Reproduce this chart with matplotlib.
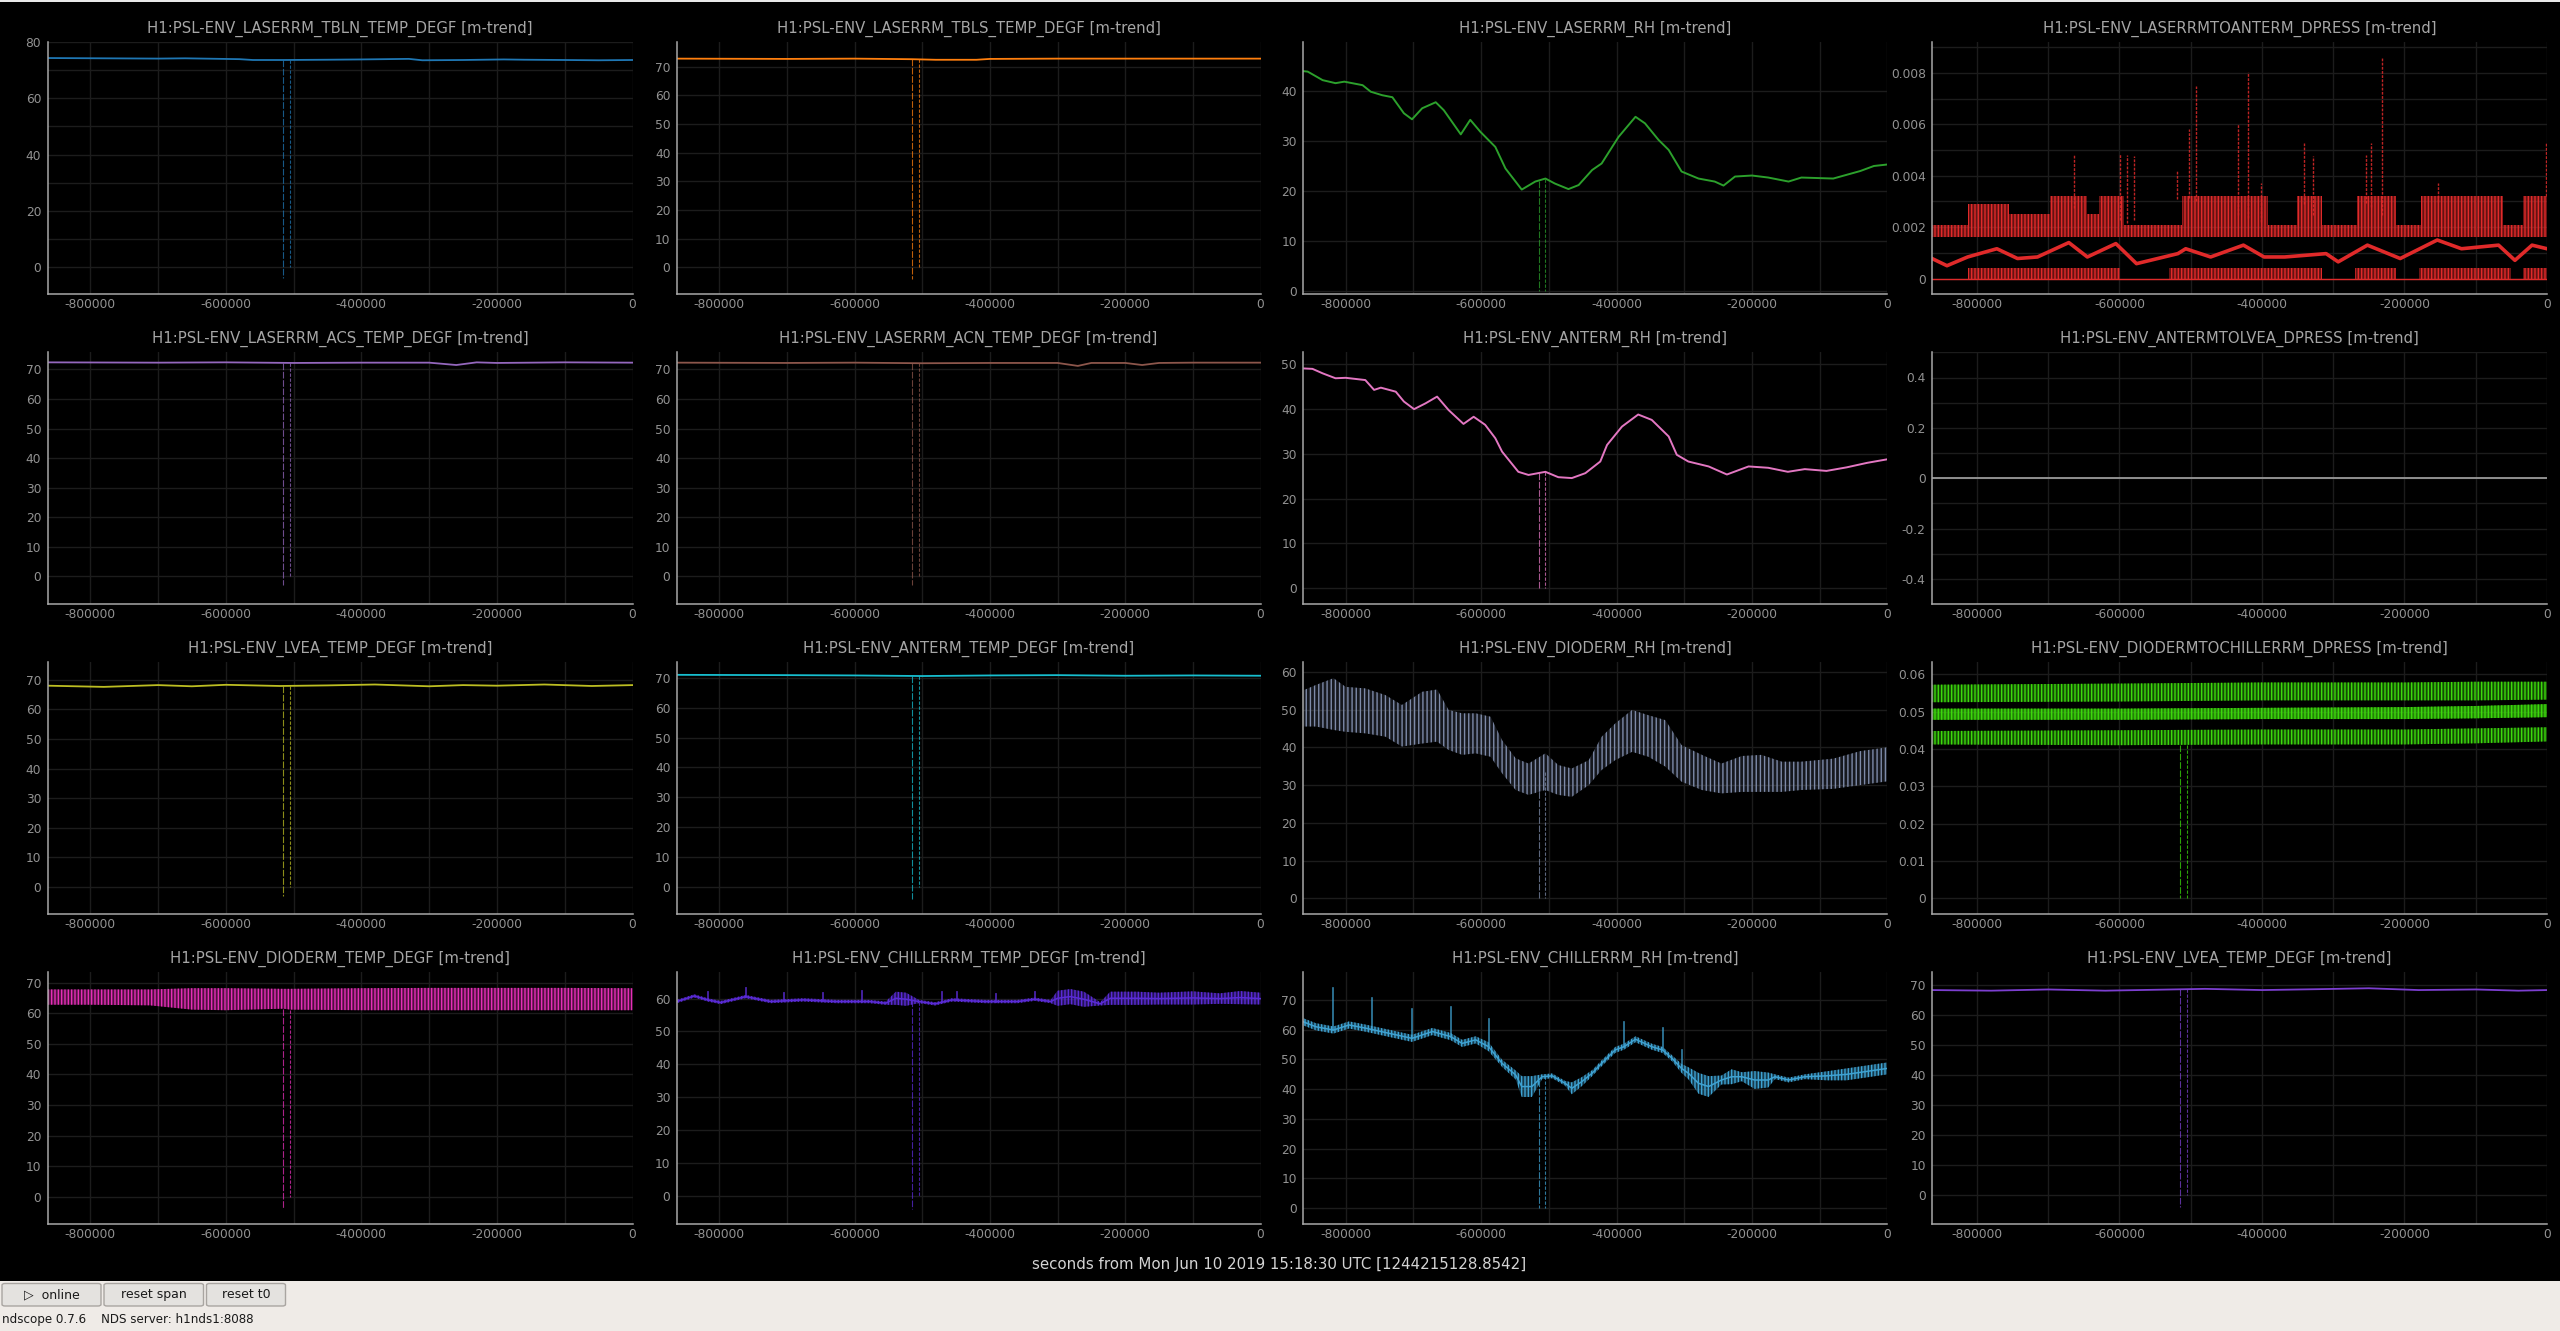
import numpy as np
import matplotlib
matplotlib.use("Agg")
import matplotlib.pyplot as plt
from matplotlib.ticker import MultipleLocator, FixedLocator, FuncFormatter
from matplotlib.patches import FancyBboxPatch, Rectangle
from matplotlib.colors import to_rgba

plt.rcParams['font.family'] = ['DejaVu Sans']
plt.rcParams['axes.unicode_minus'] = False
plt.rcParams['hatch.linewidth'] = 1.0

# ---------------- data (time in kiloseconds before t0) ----------------
XLABEL = "seconds from Mon Jun 10 2019 15:18:30 UTC [1244215128.8542]"
DROP_T = [-515, -505]   # data dropouts (vertical lines)

tbln_t = [-863, -780, -700, -660, -580, -560, -515, -450, -400, -330, -310, -250, -190, -160, -100, -50, 0]
tbln_v = [74.3, 74.2, 74.1, 74.2, 73.9, 73.6, 73.6, 73.7, 73.8, 74.0, 73.5, 73.6, 73.8, 73.7, 73.6, 73.5, 73.6]

tbls_t = [-863, -700, -600, -515, -480, -420, -400, -300, -200, -100, 0]
tbls_v = [72.8, 72.7, 72.8, 72.6, 72.4, 72.4, 72.7, 72.8, 72.8, 72.8, 72.8]

lrh_t = [-863, -856, -834, -815, -802, -775, -763, -746, -731, -714, -702, -687, -667, -655, -643,
         -630, -616, -601, -579, -564, -540, -520, -505, -491, -471, -456, -436, -422, -397, -372,
         -358, -338, -323, -304, -279, -255, -242, -225, -200, -176, -146, -127, -80, -40, -20, 0]
lrh_v = [43.9, 43.8, 42.1, 41.5, 41.8, 41.1, 39.8, 39.1, 38.7, 35.5, 34.3, 36.5, 37.7, 36.1, 33.8,
         31.3, 34.2, 31.8, 28.8, 24.5, 20.3, 21.9, 22.5, 21.5, 20.4, 21.2, 24.2, 25.5, 30.8, 34.8,
         33.5, 30.2, 28.2, 23.9, 22.5, 21.9, 21.1, 22.9, 23.1, 22.7, 21.9, 22.7, 22.5, 24.0, 25.0, 25.3]

# LASERRMTOANTERM_DPRESS: max band (step), min band (step), mean, spikes
la_max_t = [-863, -813, -755, -697, -645, -628, -593, -512, -391, -351, -316, -267, -212, -177, -62, -33, 0]
la_max_hi = [0.0021, 0.0029, 0.0025, 0.0032, 0.0025, 0.0032, 0.0021, 0.0032, 0.0021, 0.0032, 0.0021,
             0.0032, 0.0021, 0.0032, 0.0021, 0.0032, 0.0032]
la_max_lo = [0.0016, 0.0016, 0.0016, 0.0016, 0.0016, 0.0016, 0.0016, 0.0016, 0.0016, 0.0016, 0.0016,
             0.0016, 0.0016, 0.0016, 0.0016, 0.0016, 0.0016]
la_min_t = [-863, -813, -599, -530, -316, -270, -212, -180, -50, -34, 0]
la_min_hi = [0.0, 0.0004, 0.0, 0.0004, 0.0, 0.0004, 0.0, 0.0004, 0.0, 0.0004, 0.0004]
la_mean_t = [-863, -842, -813, -772, -743, -715, -671, -645, -605, -576, -518, -507, -472,
             -426, -397, -368, -310, -293, -252, -206, -154, -120, -68, -45, -21, 0]
la_mean_v = [0.00078, 0.0005, 0.00084, 0.00116, 0.00078, 0.00084, 0.0014, 0.00084, 0.00136, 0.00058,
             0.00097, 0.00116, 0.00084, 0.0013, 0.00084, 0.00084, 0.00097, 0.00065, 0.0013, 0.00078,
             0.0015, 0.00116, 0.0013, 0.00071, 0.0013, 0.00116]
la_spike_t = [-664, -599, -589, -579, -519, -503, -492, -433, -420, -401, -341, -328, -254, -247, -231, -153, -2]
la_spike_v = [0.0048, 0.00483, 0.0048, 0.00475, 0.00423, 0.00583, 0.00747, 0.006, 0.00805, 0.0037,
              0.00527, 0.00475, 0.00479, 0.00528, 0.00858, 0.0037, 0.0053]

acs_t = [-863, -700, -600, -500, -400, -300, -260, -230, -200, -100, 0]
acs_v = [72.4, 72.3, 72.4, 72.2, 72.3, 72.3, 71.5, 72.4, 72.2, 72.4, 72.3]

acn_t = [-863, -700, -600, -500, -400, -300, -270, -250, -200, -175, -150, -100, 0]
acn_v = [72.3, 72.2, 72.3, 72.1, 72.2, 72.2, 71.2, 72.2, 72.2, 71.5, 72.2, 72.3, 72.3]

arh_t = [-863, -849, -834, -815, -800, -771, -758, -748, -726, -714, -699, -682, -665, -648,
         -626, -611, -594, -579, -569, -545, -530, -505, -486, -466, -446, -424, -414, -392,
         -368, -348, -323, -311, -294, -264, -237, -205, -176, -147, -122, -90, -60, -30, 0]
arh_v = [49.1, 49.0, 48.0, 46.9, 47.0, 46.5, 44.3, 44.8, 43.9, 41.7, 40.0, 41.3, 42.8, 39.8,
         36.7, 38.3, 36.5, 33.5, 30.5, 26.0, 25.3, 26.0, 24.8, 24.6, 25.7, 28.3, 32.0, 36.1,
         38.8, 37.6, 33.9, 29.8, 28.3, 27.2, 25.4, 27.2, 26.9, 26.0, 26.6, 26.2, 27.0, 28.0, 28.8]

alv_t = [-863, 0]
alv_v = [0.0, 0.0]

lvea1_t = [-863, -780, -700, -650, -600, -520, -450, -380, -300, -250, -200, -130, -60, 0]
lvea1_v = [68.0, 67.6, 68.2, 67.8, 68.3, 67.9, 68.1, 68.4, 67.8, 68.2, 68.0, 68.4, 67.9, 68.2]

ant_t = [-863, -700, -600, -500, -400, -300, -200, -100, 0]
ant_v = [71.0, 70.9, 70.8, 70.6, 70.8, 70.9, 70.7, 70.8, 70.7]

drh_t = [-863, -861, -844, -818, -800, -771, -741, -717, -687, -665, -648, -628, -608, -586,
         -569, -549, -530, -505, -486, -466, -441, -422, -402, -377, -353, -328, -304, -274,
         -245, -215, -186, -156, -127, -80, -40, 0]
drh_hi = [55.2, 55.2, 56.5, 58.3, 56.0, 55.6, 53.8, 51.2, 54.7, 55.3, 49.9, 49.0, 49.0, 48.1,
          41.9, 37.1, 35.7, 38.4, 35.3, 34.4, 36.6, 42.8, 46.3, 49.9, 48.5, 47.2, 40.6, 38.0,
          35.7, 37.7, 38.0, 36.2, 36.2, 37.0, 39.0, 40.0]
drh_lo = [45.5, 45.5, 45.5, 44.6, 44.1, 43.7, 42.8, 40.2, 41.0, 41.5, 39.3, 38.0, 38.4, 37.5,
          33.1, 28.7, 27.4, 28.7, 27.4, 26.9, 30.0, 34.0, 36.6, 38.8, 37.5, 34.9, 30.9, 28.7,
          27.8, 28.2, 28.2, 28.2, 28.7, 29.0, 30.0, 31.0]

dcp_t = [-863, -600, -400, -200, -100, 0]
dcp_max_lo = [0.0525, 0.0527, 0.0530, 0.0530, 0.0530, 0.0532]
dcp_max_hi = [0.0572, 0.0575, 0.0578, 0.0578, 0.0580, 0.0580]
dcp_mean_lo = [0.0478, 0.0478, 0.0480, 0.0480, 0.0482, 0.0485]
dcp_mean_hi = [0.0508, 0.0508, 0.0510, 0.0512, 0.0515, 0.0520]
dcp_min_lo = [0.0412, 0.0410, 0.0412, 0.0412, 0.0415, 0.0420]
dcp_min_hi = [0.0448, 0.0450, 0.0452, 0.0452, 0.0455, 0.0458]

dtemp_t = [-863, -800, -712, -650, -600, -515, -505, -400, -300, -200, -100, 0]
dtemp_hi = [67.8, 67.8, 67.8, 68.2, 68.2, 68.0, 68.0, 68.2, 68.3, 68.3, 68.3, 68.2]
dtemp_lo = [62.8, 62.8, 62.6, 61.2, 61.0, 61.5, 61.2, 61.0, 61.0, 61.0, 61.0, 61.0]

ctemp_t = [-863, -837, -817, -798, -761, -724, -676, -627, -578, -554, -539, -524, -505, -481, -456,
           -407, -359, -334, -310, -300, -281, -261, -237, -222, -183, -150, -100, -60, -30, 0]
ctemp_v = [59.1, 60.8, 59.6, 58.8, 60.6, 59.1, 59.6, 59.1, 59.1, 58.6, 60.1, 59.8, 59.1, 58.4, 59.6,
           59.1, 59.1, 59.8, 59.1, 60.1, 60.6, 59.8, 58.4, 60.1, 60.1, 60.0, 60.2, 60.0, 60.3, 60.0]
ctemp_amp = [0.5, 0.5, 0.5, 0.5, 0.5, 0.5, 0.5, 0.5, 0.5, 0.5, 2.0, 2.0, 0.5, 0.5, 0.5,
             0.5, 0.5, 0.5, 0.5, 2.3, 2.3, 2.3, 0.5, 2.0, 2.0, 1.8, 2.0, 1.6, 2.0, 1.8]
ctemp_spike_t = [-817, -760, -704, -646, -589, -471, -449, -391, -334]
ctemp_spike_v = [62.1, 63.3, 61.6, 61.6, 62.4, 62.1, 62.1, 61.5, 61.9]

crh_t = [-863, -844, -818, -795, -770, -736, -702, -672, -645, -628, -608, -589, -569, -549, -540,
         -525, -510, -495, -476, -466, -451, -436, -422, -402, -389, -372, -348, -332, -318, -304,
         -294, -279, -264, -245, -230, -215, -196, -176, -166, -146, -122, -90, -60, -30, 0]
crh_v = [62.7, 61.0, 59.9, 61.6, 60.5, 58.8, 57.1, 59.4, 57.7, 55.4, 56.6, 54.3, 48.7, 44.8, 40.9,
         40.9, 44.2, 44.5, 42.0, 40.3, 42.6, 45.4, 48.7, 53.2, 54.3, 56.8, 54.3, 53.2, 50.4, 47.0,
         45.4, 42.0, 40.9, 43.1, 44.2, 44.2, 43.1, 43.1, 44.2, 43.1, 44.2, 44.5, 45.0, 46.0, 47.0]
crh_amp = [1.2, 1.2, 1.2, 1.2, 1.2, 1.2, 1.2, 1.2, 1.2, 1.2, 1.2, 1.5, 1.2, 1.5, 3.5,
           3.5, 0.8, 0.8, 0.8, 2.0, 1.5, 1.0, 1.0, 1.0, 1.0, 1.0, 1.0, 1.0, 1.0, 1.5,
           2.0, 3.5, 3.5, 1.5, 2.5, 1.5, 3.0, 2.5, 0.8, 0.8, 0.8, 1.5, 2.0, 2.0, 2.0]
crh_spike_t = [-818, -761, -702, -645, -589, -389, -332, -304]
crh_spike_v = [74.1, 70.8, 67.0, 67.6, 63.7, 62.5, 60.7, 53.2]

lvea2_t = [-863, -780, -700, -620, -550, -480, -400, -320, -250, -180, -100, -40, 0]
lvea2_v = [68.2, 68.0, 68.4, 68.0, 68.3, 68.6, 68.2, 68.5, 68.8, 68.2, 68.4, 68.0, 68.2]

TITLES = [
    "H1:PSL-ENV_LASERRM_TBLN_TEMP_DEGF [m-trend]", "H1:PSL-ENV_LASERRM_TBLS_TEMP_DEGF [m-trend]",
    "H1:PSL-ENV_LASERRM_RH [m-trend]", "H1:PSL-ENV_LASERRMTOANTERM_DPRESS [m-trend]",
    "H1:PSL-ENV_LASERRM_ACS_TEMP_DEGF [m-trend]", "H1:PSL-ENV_LASERRM_ACN_TEMP_DEGF [m-trend]",
    "H1:PSL-ENV_ANTERM_RH [m-trend]", "H1:PSL-ENV_ANTERMTOLVEA_DPRESS [m-trend]",
    "H1:PSL-ENV_LVEA_TEMP_DEGF [m-trend]", "H1:PSL-ENV_ANTERM_TEMP_DEGF [m-trend]",
    "H1:PSL-ENV_DIODERM_RH [m-trend]", "H1:PSL-ENV_DIODERMTOCHILLERRM_DPRESS [m-trend]",
    "H1:PSL-ENV_DIODERM_TEMP_DEGF [m-trend]", "H1:PSL-ENV_CHILLERRM_TEMP_DEGF [m-trend]",
    "H1:PSL-ENV_CHILLERRM_RH [m-trend]", "H1:PSL-ENV_LVEA_TEMP_DEGF [m-trend]",
]
COLORS = ['#1f77b4', '#ff7f0e', '#2ca02c', '#e02a2a', '#9467bd', '#8c564b', '#e377c2', '#9a9a9a',
          '#bcbd22', '#17becf', '#7d8aa8', '#3cd90c', '#e62eb8', '#5a2bd6', '#3ea2d2', '#7c3fd0']
YLIMS = [(-9.6, 80), (-9.3, 78.6), (-0.5, 49.7), (-0.0006, 0.0092),
         (-9.4, 75.8), (-9.4, 75.8), (-3.6, 52.7), (-0.5, 0.5),
         (-9.2, 75.9), (-9.2, 75.2), (-4.2, 62.5), (-0.0043, 0.0632),
         (-9.0, 73.4), (-8.7, 68.0), (-5.4, 79.3), (-9.6, 74.1)]
YTICKS = [[0, 20, 40, 60, 80], [0, 10, 20, 30, 40, 50, 60, 70], [0, 10, 20, 30, 40],
          [0, 0.002, 0.004, 0.006, 0.008],
          [0, 10, 20, 30, 40, 50, 60, 70], [0, 10, 20, 30, 40, 50, 60, 70], [0, 10, 20, 30, 40, 50],
          [-0.4, -0.2, 0, 0.2, 0.4],
          [0, 10, 20, 30, 40, 50, 60, 70], [0, 10, 20, 30, 40, 50, 60, 70], [0, 10, 20, 30, 40, 50, 60],
          [0, 0.01, 0.02, 0.03, 0.04, 0.05, 0.06],
          [0, 10, 20, 30, 40, 50, 60, 70], [0, 10, 20, 30, 40, 50, 60], [0, 10, 20, 30, 40, 50, 60, 70],
          [0, 10, 20, 30, 40, 50, 60, 70]]
YGRID = [10, 10, 10, 0.001, 10, 10, 10, 0.1, 10, 10, 10, 0.01, 10, 10, 10, 10]
DROP_BOTTOM = [(-4, 0), (-4, 0), (0, 0), None, (-3, 0), (-3, 0), (0, 0), None,
               (-3, 0), (-4, 0), (0, 0), (0, 0), (-4, 0), (-4, 0), (0, 0), (-4, 0)]
X_MAJOR = [-800000, -600000, -400000, -200000, 0]
X_MINOR = [-700000, -500000, -300000, -100000]
XLIM = (-863000, 0)

# ---------------- layout ----------------
W, H = 2560, 1331
fig = plt.figure(figsize=(W / 100, H / 100), dpi=100, facecolor='black')
COLS = [(47.5, 632.5), (676.7, 1260.5), (1303, 1887.4), (1932, 2547)]
ROWS = [(42, 294), (352.3, 604.3), (662.3, 914.3), (972.3, 1224.3)]

K = 1000.0
def ks(a):
    return np.asarray(a, dtype=float) * K

axes = []
for r in range(4):
    for c in range(4):
        x0, x1 = COLS[c]
        y0, y1 = ROWS[r]
        ax = fig.add_axes([x0 / W, 1 - y1 / H, (x1 - x0) / W, (y1 - y0) / H])
        axes.append(ax)

def fmt_y(v, pos):
    return '%g' % v

for i, ax in enumerate(axes):
    ax.set_facecolor('black')
    ax.set_xlim(*XLIM)
    ax.set_ylim(*YLIMS[i])
    ax.set_xticks(X_MAJOR)
    ax.xaxis.set_minor_locator(FixedLocator(X_MINOR))
    ax.xaxis.set_major_formatter(FuncFormatter(lambda v, p: '%d' % round(v)))
    ax.set_yticks(YTICKS[i])
    ax.yaxis.set_minor_locator(MultipleLocator(YGRID[i]))
    ax.yaxis.set_major_formatter(FuncFormatter(fmt_y))
    ax.grid(which='both', color='#1c1c1c', lw=1.0)
    ax.set_axisbelow(True)
    for s in ['top', 'right']:
        ax.spines[s].set_visible(False)
    for s in ['left', 'bottom']:
        ax.spines[s].set_color('#a8a8a8')
        ax.spines[s].set_linewidth(1.1)
    ax.tick_params(which='both', length=0, colors='#929292', labelsize=8.8)
    ax.tick_params(axis='y', pad=4.5)
    ax.tick_params(axis='x', pad=3.0)
    ax.text(0.5, 1 + 9.7 / 252, TITLES[i], transform=ax.transAxes, ha='center',
            va='baseline', color='#a6a6a6', fontsize=10.7)

def line(ax, t, v, color, lw=1.3, alpha=1.0):
    ax.plot(ks(t), v, color=color, lw=lw, alpha=alpha, solid_joinstyle='round')

def hband(ax, t, lo, hi, color, face_alpha=0.25, hatch='||||', step=None):
    ax.fill_between(ks(t), lo, hi, facecolor=to_rgba(color, face_alpha), edgecolor=color,
                    hatch=hatch, lw=0, step=step)

def dropouts(ax, i, t, v):
    b = DROP_BOTTOM[i]
    if b is None:
        return
    for k, td in enumerate(DROP_T):
        top = np.interp(td * K, ks(t), np.asarray(v, float))
        ax.plot([td * K, td * K], [top, b[k]], color=COLORS[i], lw=0.8,
                alpha=0.75, dashes=(3, 1.5) if k == 1 else (6, 1.5))

def spikes(ax, t, base, v, color, lw=0.9, alpha=0.8, dashed=False):
    for tt, bb, vv in zip(t, base, v):
        kw = dict(dashes=(2, 1)) if dashed else {}
        ax.plot([tt * K, tt * K], [bb, vv], color=color, lw=lw, alpha=alpha, **kw)

# P1..P2
line(axes[0], tbln_t, tbln_v, COLORS[0]); dropouts(axes[0], 0, tbln_t, tbln_v)
line(axes[1], tbls_t, tbls_v, COLORS[1]); dropouts(axes[1], 1, tbls_t, tbls_v)
# P3
line(axes[2], lrh_t, lrh_v, COLORS[2], lw=1.4); dropouts(axes[2], 2, lrh_t, lrh_v)
# P4
ax = axes[3]
hband(ax, la_max_t, la_max_lo, la_max_hi, COLORS[3], face_alpha=0.45, hatch='|||||', step='post')
hband(ax, la_min_t, [0.0] * len(la_min_t), la_min_hi, COLORS[3], face_alpha=0.45, hatch='|||||', step='post')
ax.plot(ks([-863, 0]), [0, 0], color=COLORS[3], lw=1.0)
spikes(ax, la_spike_t, np.interp(ks(la_spike_t), ks(la_max_t), la_max_hi), la_spike_v,
       COLORS[3], lw=1.0, alpha=0.85, dashed=True)
line(ax, la_mean_t, la_mean_v, COLORS[3], lw=2.6)
# P5..P8
line(axes[4], acs_t, acs_v, COLORS[4]); dropouts(axes[4], 4, acs_t, acs_v)
line(axes[5], acn_t, acn_v, COLORS[5]); dropouts(axes[5], 5, acn_t, acn_v)
line(axes[6], arh_t, arh_v, COLORS[6], lw=1.4); dropouts(axes[6], 6, arh_t, arh_v)
line(axes[7], alv_t, alv_v, COLORS[7], lw=1.3)
# P9..P12
line(axes[8], lvea1_t, lvea1_v, COLORS[8]); dropouts(axes[8], 8, lvea1_t, lvea1_v)
line(axes[9], ant_t, ant_v, COLORS[9]); dropouts(axes[9], 9, ant_t, ant_v)
hband(axes[10], drh_t, drh_lo, drh_hi, COLORS[10], face_alpha=0.18, hatch='||||')
dropouts(axes[10], 10, drh_t, [(a + b) / 2 for a, b in zip(drh_lo, drh_hi)])
ax = axes[11]
hband(ax, dcp_t, dcp_max_lo, dcp_max_hi, COLORS[11], face_alpha=0.35, hatch='|||||')
hband(ax, dcp_t, dcp_min_lo, dcp_min_hi, COLORS[11], face_alpha=0.35, hatch='|||||')
hband(ax, dcp_t, dcp_mean_lo, dcp_mean_hi, COLORS[11], face_alpha=0.6, hatch='|||||')
dropouts(ax, 11, dcp_t, dcp_min_lo)
# P13..P16
hband(axes[12], dtemp_t, dtemp_lo, dtemp_hi, COLORS[12], face_alpha=0.35, hatch='|||||')
dropouts(axes[12], 12, dtemp_t, dtemp_lo)
ax = axes[13]
cv = np.asarray(ctemp_v); ca = np.asarray(ctemp_amp)
hband(ax, ctemp_t, cv - ca, cv + ca, COLORS[13], face_alpha=0.4, hatch='|||||')
line(ax, ctemp_t, ctemp_v, COLORS[13], lw=1.1)
spikes(ax, ctemp_spike_t, np.interp(ks(ctemp_spike_t), ks(ctemp_t), cv), ctemp_spike_v, COLORS[13], lw=1.3)
dropouts(ax, 13, ctemp_t, ctemp_v)
ax = axes[14]
rv = np.asarray(crh_v); ra = np.asarray(crh_amp)
hband(ax, crh_t, rv - ra, rv + ra, COLORS[14], face_alpha=0.35, hatch='|||||')
line(ax, crh_t, crh_v, COLORS[14], lw=1.1)
spikes(ax, crh_spike_t, np.interp(ks(crh_spike_t), ks(crh_t), rv), crh_spike_v, COLORS[14], lw=1.2)
dropouts(ax, 14, crh_t, crh_v)
line(axes[15], lvea2_t, lvea2_v, COLORS[15]); dropouts(axes[15], 15, lvea2_t, lvea2_v)

# ---------------- x label and window chrome ----------------
fig.text(1279 / W, 1 - 1264 / H, XLABEL, ha='center', va='center', color='#d4d4d4', fontsize=10.8)

fig.patches.append(Rectangle((0, 0), 1, 50 / H, transform=fig.transFigure,
                             facecolor='#efebe7', edgecolor='none', zorder=-1))
fig.patches.append(Rectangle((0, 1 - 2 / H), 1, 2 / H, transform=fig.transFigure,
                             facecolor='#e8e8e8', edgecolor='none', zorder=-1))
BUTTONS = [("\u25B7  online", 2, 101), ("reset span", 104, 203.5), ("reset t0", 206.5, 285.5)]
for label, bx0, bx1 in BUTTONS:
    fig.patches.append(FancyBboxPatch((bx0 / W, 1 - 1306 / H), (bx1 - bx0) / W, 22.5 / H,
                                      boxstyle="round,pad=0,rounding_size=0.0012",
                                      transform=fig.transFigure, facecolor='#e4e2df',
                                      edgecolor='#a9a5a1', lw=1.0))
    fig.text((bx0 + bx1) / 2 / W, 1 - 1294.5 / H, label, ha='center', va='center',
             color='#1a1a1a', fontsize=9.0)
fig.text(2 / W, 1 - 1320 / H, "ndscope 0.7.6    NDS server: h1nds1:8088", ha='left', va='center',
         color='#1a1a1a', fontsize=8.6)

fig.savefig("out.png", dpi=100, facecolor='black')
